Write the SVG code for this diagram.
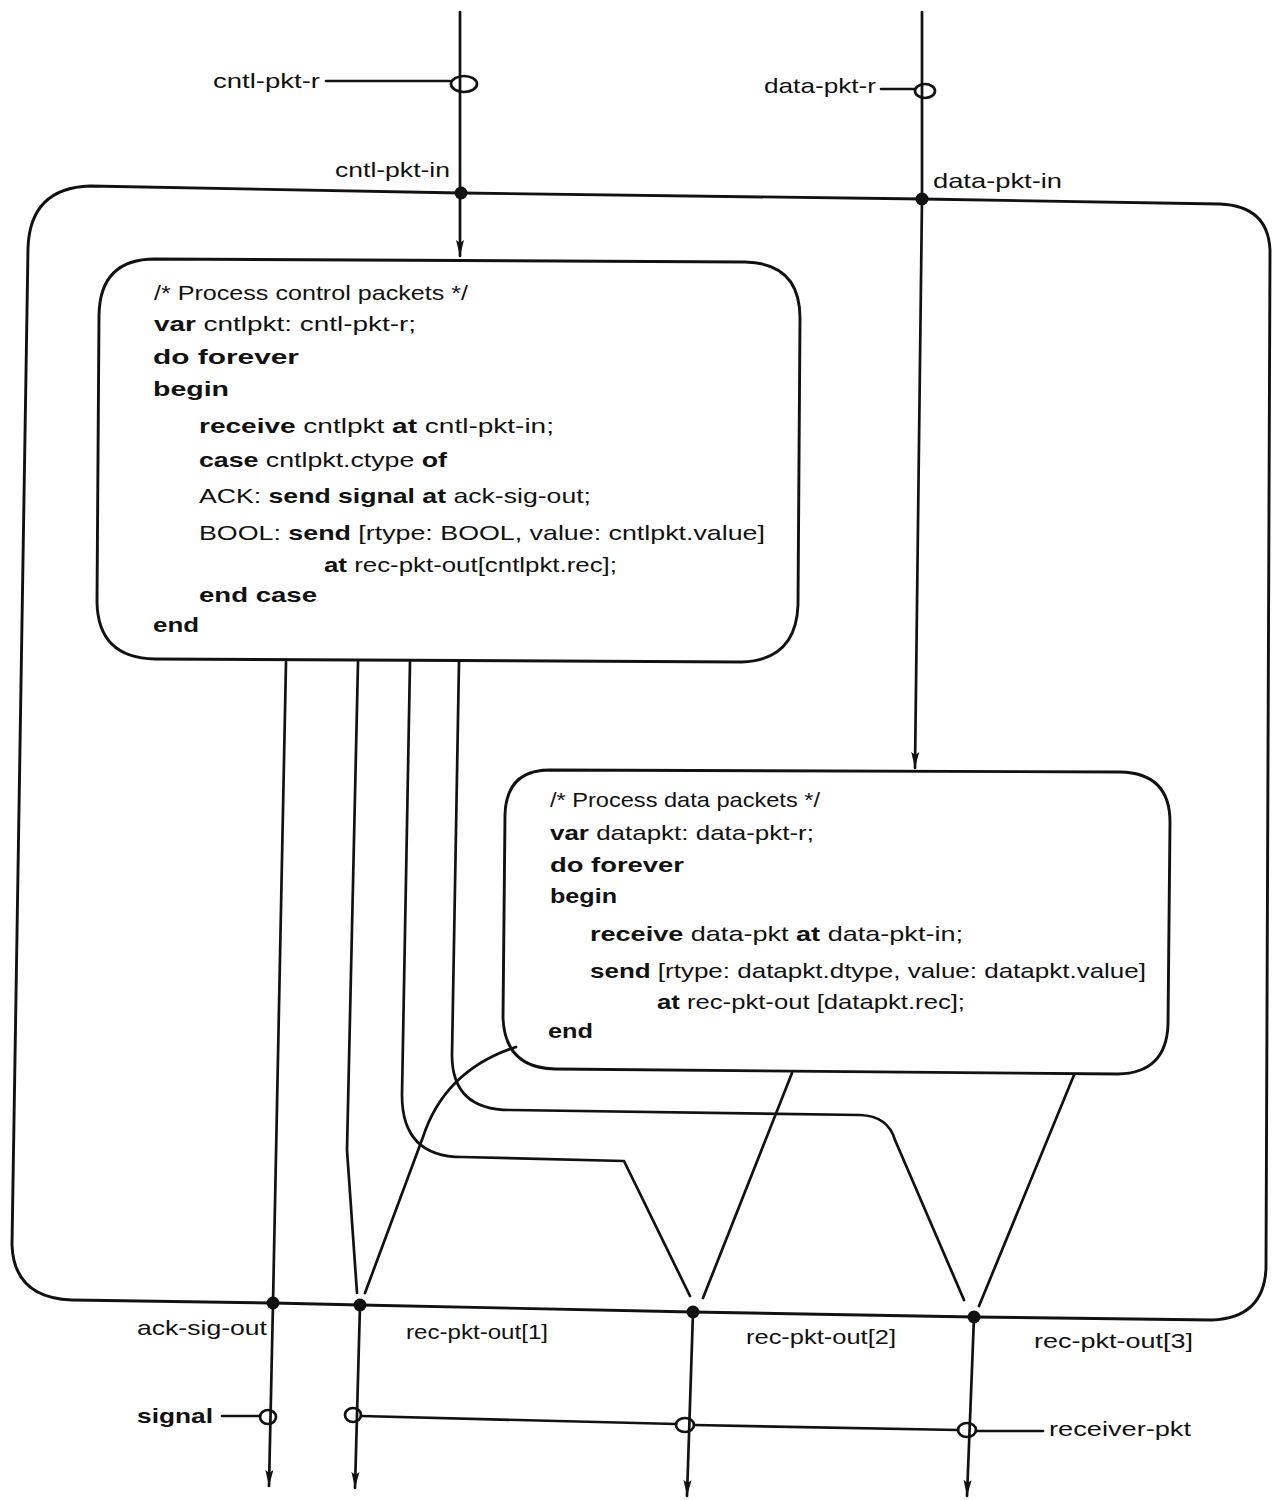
<svg xmlns="http://www.w3.org/2000/svg" width="1272" height="1500" viewBox="0 0 1272 1500">
<style>
.ln{fill:none;stroke:#111;stroke-width:2.7;stroke-linejoin:round;stroke-linecap:round}
.box{fill:none;stroke:#111;stroke-width:2.9}
.dot{fill:#111}
.t{font-family:"Liberation Sans",Arial,sans-serif;font-size:21px;fill:#111}
.c{font-family:"Liberation Sans",Arial,sans-serif;font-size:21px;fill:#111}
.b{font-weight:bold}
</style>
<defs>
<marker id="arr" viewBox="0 0 16 10" refX="16" refY="5" markerWidth="16" markerHeight="10" markerUnits="userSpaceOnUse" orient="auto">
<path d="M0,1 L16,5 L0,9 L3,5 Z" fill="#111"/>
</marker>
</defs>
<rect width="1272" height="1500" fill="#fff"/>

<g id="outer-process">
<path class="box" d="M 90 186 L 461 193 L 922 199 L 1220 204 Q 1268 206 1270 250 L 1266 1268 Q 1264 1318 1212 1320 L 974 1317 L 693 1312 L 360 1305 L 273 1303 L 72 1300 Q 14 1298 12 1245 L 28 248 Q 30 188 90 186 Z"/>
</g>

<g id="cntl-proc">
<path class="box" d="M 155 259 L 745 262 Q 800 263 800 318 L 798 605 Q 796 660 742 662 L 155 659 Q 98 658 97 602 L 99 315 Q 100 259 155 259 Z"/>
<text class="c" x="154" y="300" textLength="314" lengthAdjust="spacingAndGlyphs">/* Process control packets */</text>
<text class="c" x="154" y="331" textLength="262" lengthAdjust="spacingAndGlyphs"><tspan class="b">var</tspan> cntlpkt: cntl-pkt-r;</text>
<text class="c b" x="153" y="364" textLength="146" lengthAdjust="spacingAndGlyphs">do forever</text>
<text class="c b" x="153" y="396" textLength="76" lengthAdjust="spacingAndGlyphs">begin</text>
<text class="c" x="199" y="433" textLength="355" lengthAdjust="spacingAndGlyphs"><tspan class="b">receive</tspan> cntlpkt <tspan class="b">at</tspan> cntl-pkt-in;</text>
<text class="c" x="199" y="467" textLength="248" lengthAdjust="spacingAndGlyphs"><tspan class="b">case</tspan> cntlpkt.ctype <tspan class="b">of</tspan></text>
<text class="c" x="199" y="503" textLength="392" lengthAdjust="spacingAndGlyphs">ACK: <tspan class="b">send signal at</tspan> ack-sig-out;</text>
<text class="c" x="199" y="540" textLength="566" lengthAdjust="spacingAndGlyphs">BOOL: <tspan class="b">send</tspan> [rtype: BOOL, value: cntlpkt.value]</text>
<text class="c" x="324" y="572" textLength="293" lengthAdjust="spacingAndGlyphs"><tspan class="b">at</tspan> rec-pkt-out[cntlpkt.rec];</text>
<text class="c b" x="199" y="602" textLength="118" lengthAdjust="spacingAndGlyphs">end case</text>
<text class="c b" x="153" y="632" textLength="46" lengthAdjust="spacingAndGlyphs">end</text>
</g>

<g id="data-proc">
<path class="box" d="M 550 770 L 1120 772 Q 1170 773 1170 822 L 1168 1025 Q 1166 1073 1118 1074 L 555 1069 Q 505 1068 503 1018 L 505 815 Q 506 770 550 770 Z"/>
<text class="c" x="550" y="807" textLength="270" lengthAdjust="spacingAndGlyphs">/* Process data packets */</text>
<text class="c" x="550" y="840" textLength="264" lengthAdjust="spacingAndGlyphs"><tspan class="b">var</tspan> datapkt: data-pkt-r;</text>
<text class="c b" x="550" y="872" textLength="134" lengthAdjust="spacingAndGlyphs">do forever</text>
<text class="c b" x="550" y="903" textLength="67" lengthAdjust="spacingAndGlyphs">begin</text>
<text class="c" x="590" y="941" textLength="373" lengthAdjust="spacingAndGlyphs"><tspan class="b">receive</tspan> data-pkt <tspan class="b">at</tspan> data-pkt-in;</text>
<text class="c" x="590" y="978" textLength="556" lengthAdjust="spacingAndGlyphs"><tspan class="b">send</tspan> [rtype: datapkt.dtype, value: datapkt.value]</text>
<text class="c" x="657" y="1009" textLength="308" lengthAdjust="spacingAndGlyphs"><tspan class="b">at</tspan> rec-pkt-out [datapkt.rec];</text>
<text class="c b" x="548" y="1038" textLength="45" lengthAdjust="spacingAndGlyphs">end</text>
</g>

<g id="connectors">
<path class="ln" d="M 460 12 L 460 256" marker-end="url(#arr)"/>
<path class="ln" d="M 922 12 L 922 199 L 915 768" marker-end="url(#arr)"/>
<path class="ln" d="M 326 81 L 450 81"/>
<ellipse class="ln" cx="464" cy="84" rx="13" ry="8"/>
<path class="ln" d="M 881 89 L 914 89"/>
<ellipse class="ln" cx="925" cy="91" rx="10" ry="7"/>
<circle class="dot" cx="461" cy="193" r="6.5"/>
<circle class="dot" cx="922" cy="199" r="6.5"/>

<path class="ln" d="M 286 662 L 273 1303 L 269 1486" marker-end="url(#arr)"/>
<path class="ln" d="M 358 662 L 347 1150 L 357 1293"/>
<path class="ln" d="M 410 662 L 402 1095 Q 402 1157 462 1157 L 624 1161 L 690 1296"/>
<path class="ln" d="M 459 662 L 452 1055 Q 452 1110 510 1110 L 860 1115 Q 888 1116 895 1140 L 964 1300"/>

<path class="ln" d="M 516 1047 Q 445 1070 423 1137 L 365 1293"/>
<path class="ln" d="M 792 1073 L 703 1298"/>
<path class="ln" d="M 1074 1075 L 979 1306"/>

<circle class="dot" cx="273" cy="1303" r="6.5"/>
<circle class="dot" cx="360" cy="1305" r="6.5"/>
<circle class="dot" cx="693" cy="1312" r="6.5"/>
<circle class="dot" cx="974" cy="1317" r="6.5"/>
<path class="ln" d="M 360 1305 L 355 1488" marker-end="url(#arr)"/>
<path class="ln" d="M 693 1312 L 687 1496" marker-end="url(#arr)"/>
<path class="ln" d="M 974 1317 L 967 1496" marker-end="url(#arr)"/>

<path class="ln" d="M 222 1416 L 260 1416"/>
<ellipse class="ln" cx="268" cy="1417" rx="8" ry="7"/>
<ellipse class="ln" cx="353" cy="1415" rx="8" ry="7"/>
<path class="ln" d="M 361 1416 L 676 1424"/>
<ellipse class="ln" cx="685" cy="1425" rx="9" ry="7"/>
<path class="ln" d="M 694 1425 L 958 1430"/>
<ellipse class="ln" cx="967" cy="1430" rx="9" ry="7"/>
<path class="ln" d="M 976 1431 L 1043 1431"/>
</g>

<g id="labels">
<text class="t" x="213" y="88" textLength="107" lengthAdjust="spacingAndGlyphs">cntl-pkt-r</text>
<text class="t" x="764" y="93" textLength="112" lengthAdjust="spacingAndGlyphs">data-pkt-r</text>
<text class="t" x="335" y="177" textLength="115" lengthAdjust="spacingAndGlyphs">cntl-pkt-in</text>
<text class="t" x="933" y="188" textLength="129" lengthAdjust="spacingAndGlyphs">data-pkt-in</text>
<text class="t" x="137" y="1335" textLength="130" lengthAdjust="spacingAndGlyphs">ack-sig-out</text>
<text class="t" x="406" y="1339" textLength="142" lengthAdjust="spacingAndGlyphs">rec-pkt-out[1]</text>
<text class="t" x="746" y="1344" textLength="150" lengthAdjust="spacingAndGlyphs">rec-pkt-out[2]</text>
<text class="t" x="1034" y="1348" textLength="159" lengthAdjust="spacingAndGlyphs">rec-pkt-out[3]</text>
<text class="t b" x="137" y="1423" textLength="76" lengthAdjust="spacingAndGlyphs">signal</text>
<text class="t" x="1049" y="1436" textLength="142" lengthAdjust="spacingAndGlyphs">receiver-pkt</text>
</g>
</svg>
